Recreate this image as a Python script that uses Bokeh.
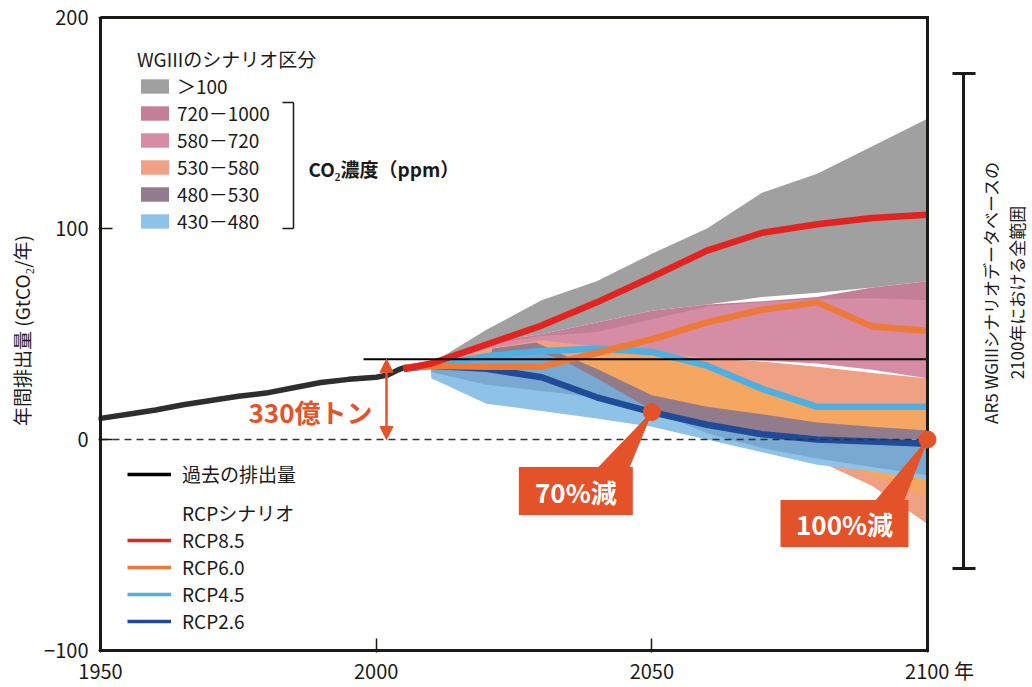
import math
from bokeh.plotting import figure
from bokeh.models import Range1d, FixedTicker, Label, Arrow, NormalHead, Legend, LegendItem
from bokeh.core.properties import value
from bokeh.embed import file_html
from bokeh.resources import INLINE

FONT = "Noto Sans CJK JP"

# ---------------- data ----------------
hist_years = [1950, 1955, 1960, 1965, 1970, 1975, 1980, 1985, 1990, 1995, 2000, 2002, 2004, 2005]
hist_emis = [10, 12, 14, 16.5, 18.5, 20.5, 22, 24.5, 27, 28.5, 29.5, 30.5, 33, 34]

rcp_years = [2005, 2010, 2020, 2030, 2040, 2050, 2060, 2070, 2080, 2090, 2100]
rcp85 = [33.5, 36, 45, 54, 65, 77, 89.5, 98, 102, 105, 106.5]
rcp60 = [34, 35, 34.5, 34.5, 41, 47.5, 55.5, 61.5, 65, 53.5, 51.5]
rcp45 = [34, 35, 39.5, 42, 43, 41.5, 35, 24, 15.5, 15.5, 15.5]
rcp26 = [33.5, 35, 33.5, 29.5, 20, 13, 7, 2.5, 0, -1, -2]

band_years = [2010, 2020, 2030, 2040, 2050, 2060, 2070, 2080, 2090, 2100]
gray_hi = [36, 52, 66, 75, 88, 100, 117, 126, 139, 152]
gray_lo = [34, 46, 50, 55.5, 61, 64, 67.5, 69.5, 72, 75]
mauve_hi = [35.5, 46, 50, 55.5, 61, 64, 65.5, 67.5, 72, 75]
mauve_lo = [33.5, 37, 41, 45, 49, 53, 57, 60, 63, 66]
pink_hi = [35, 45, 49, 51, 57, 63, 65, 66.5, 67, 66]
pink_lo = [33, 38, 38, 38.5, 39, 38.5, 37.5, 36, 33, 29]
salmon_hi = [34, 43, 47, 44, 42, 38.5, 37, 34.5, 31.5, 29]
salmon_lo = [30, 24, 17, 12, 8, 2, -4, -10, -22, -40]

orange_years = [2030, 2040, 2050, 2060, 2070, 2080, 2090, 2100]
orange_hi = [38, 41, 40, 34, 23, 15, 15, 15]
orange_lo = [36, 25, 12, 4, -2, -8, -17, -27]

blue_hi = [34, 41, 42, 33, 20, 12, 6, 3, 1.5, 0.5]
blue_lo = [29, 17, 13.5, 10, 6, 0, -6, -12, -15, -19]
steel_lo = [32, 26, 23, 20, 14, 3, -4, -9, -13, -17]

b480_years = [2021, 2029, 2034, 2040, 2050, 2060, 2070, 2080, 2090, 2100]
b480_hi = [43, 46, 40, 33.5, 21, 15.5, 12, 8, 6, 4.3]
b480_lo = [41, 42, 37.5, 29, 14, 8, 3.5, 1.5, 0.5, 0]

band_labels = ["＞100", "720－1000", "580－720", "530－580", "480－530", "430－480"]
rcp_labels = ["RCP8.5", "RCP6.0", "RCP4.5", "RCP2.6"]

x_ticks = [1950, 2000, 2050, 2100]
x_tick_labels = ["1950", "2000", "2050", "\u3000\u20092100 年"]
y_ticks = [-100, 0, 100, 200]
y_tick_labels = ["−100", "0", "100", "200"]

ref_level = 38            # level of recent emissions (horizontal line)
ref_text = "330億トン"
callout_years = [2050, 2100]
callout_vals = [13, 0]
callout_texts = ["70%減", "100%減"]

# ---------------- colours ----------------
C_GRAY = "#a0a0a0"
C_MAUVE = "#c47f98"
C_PINK = "#d58ca4"
C_SALMON = "#f0a083"
C_ORANGE = "#f5a660"
C_480 = "#927b8a"
C_LBLUE = "#8ec2e6"
C_STEEL = "#79a9d1"
C_85 = "#e3231f"
C_60 = "#ee7a3a"
C_45 = "#4db0e0"
C_26 = "#1f4b98"
C_HIST = "#2e2e2e"
C_ACC = "#e4522a"
C_INK = "#1b1b16"
C_TXT = "#1a1a1a"

# ---------------- geometry helpers (page px -> data) ----------------
X0, X1, Y0, Y1 = 1950, 2100, -100, 200
PXX = 827 / 150.0      # px per year
PXY = 633 / 300.0      # px per GtCO2


def xd(px):
    return X0 + (px - 100) / PXX


def yd(py):
    return (439 - py) / PXY


FRAME_LEFT, FRAME_RIGHT, FRAME_TOP, FRAME_BOTTOM = 98, 1030, 8, 652
p = figure(frame_width=FRAME_RIGHT - FRAME_LEFT, frame_height=FRAME_BOTTOM - FRAME_TOP,
           x_range=Range1d(xd(FRAME_LEFT), xd(FRAME_RIGHT)),
           y_range=Range1d(yd(FRAME_BOTTOM), yd(FRAME_TOP)),
           output_backend="svg", toolbar_location=None,
           min_border_left=FRAME_LEFT, min_border_right=0, min_border_top=FRAME_TOP,
           min_border_bottom=34)
p.outline_line_color = None
p.xgrid.visible = False
p.ygrid.visible = False
p.background_fill_color = "white"

# ---------------- bands ----------------
r_gray = p.varea(x=band_years, y1=gray_lo, y2=gray_hi, fill_color=C_GRAY)
r_mauve = p.varea(x=band_years, y1=mauve_lo, y2=mauve_hi, fill_color=C_MAUVE)
r_pink = p.varea(x=band_years, y1=pink_lo, y2=pink_hi, fill_color=C_PINK)
r_salmon = p.varea(x=band_years, y1=salmon_lo, y2=salmon_hi, fill_color=C_SALMON)
p.varea(x=orange_years, y1=orange_lo, y2=orange_hi, fill_color=C_ORANGE)
r_lblue = p.varea(x=band_years, y1=blue_lo, y2=blue_hi, fill_color=C_LBLUE)
p.varea(x=band_years, y1=steel_lo, y2=blue_hi, fill_color=C_STEEL)
r_480 = p.varea(x=b480_years, y1=b480_lo, y2=b480_hi, fill_color=C_480)

# ---------------- lines ----------------
p.line(hist_years, hist_emis, line_color=C_HIST, line_width=5.5, line_cap="round")
p.line(rcp_years, rcp26, line_color=C_26, line_width=6.5)
p.line(rcp_years, rcp45, line_color=C_45, line_width=6.5)
p.line(rcp_years, rcp60, line_color=C_60, line_width=6.5)
p.line(rcp_years, rcp85, line_color=C_85, line_width=6.5)

# zero line and reference level
p.line([X0, X1], [0, 0], line_color="#333333", line_width=1.5, line_dash="7 5")
p.line([xd(363), X1], [ref_level, ref_level], line_color="black", line_width=2)

# box
p.line([X0, X1, X1, X0, X0], [Y1, Y1, Y0, Y0, Y1], line_color=C_INK, line_width=3, line_join="miter")

# arrow + text
arr_x = xd(386)
p.add_layout(Arrow(start=NormalHead(size=13, fill_color=C_ACC, line_color=C_ACC),
                   end=NormalHead(size=13, fill_color=C_ACC, line_color=C_ACC),
                   x_start=arr_x, y_start=0, x_end=arr_x, y_end=ref_level,
                   line_color=C_ACC, line_width=2.5))
p.add_layout(Label(x=xd(372), y=ref_level * 0.35, text=ref_text, text_align="right",
                   text_baseline="middle", text_font=FONT, text_font_size="26px",
                   text_font_style="bold", text_color=C_ACC))

# callouts
box_dx = [-76, -83]
box_dy = [79, 84]
box_w = [114, 128]
box_h = [48, 47]
base_l = [-54, -52]
base_r = [-23, -24]
cx = [x + dxp / PXX for x, dxp in zip(callout_years, box_dx)]
cy = [v - dyp / PXY for v, dyp in zip(callout_vals, box_dy)]
tri_xs, tri_ys = [], []
for x, v, bl, br, dyp, hh in zip(callout_years, callout_vals, base_l, base_r, box_dy, box_h):
    top = v - (dyp - hh / 2.0) / PXY
    tri_xs.append([x, x + bl / PXX, x + br / PXX])
    tri_ys.append([v, top - 1 / PXY, top - 1 / PXY])
p.patches(tri_xs, tri_ys, fill_color=C_ACC, line_color=C_ACC)
p.rect(x=cx, y=cy, width=box_w, height=box_h, width_units="screen", height_units="screen",
       fill_color=C_ACC, line_color=None)
p.text(x=cx, y=cy, text=callout_texts, text_color="white", text_font=value(FONT),
       text_font_size="26px", text_font_style="bold", text_align="center", text_baseline="middle")
p.scatter(callout_years, callout_vals, size=17, fill_color=C_ACC, line_color=C_ACC)

# right bracket and text
bx = xd(963)
p.multi_line([[bx, bx], [xd(952), xd(975)], [xd(952), xd(975)]],
             [[yd(73), yd(568)], [yd(73), yd(73)], [yd(568), yd(568)]],
             line_color=C_INK, line_width=3)
p.text(x=[xd(990), xd(1016)], y=[yd(292), yd(292)],
       text=["AR5 WGIIIシナリオデータベースの", "2100年における全範囲"],
       angle=math.pi / 2, text_font=value(FONT), text_font_size="17px", text_color=C_TXT,
       text_align="center", text_baseline="middle")

# legend bracket and CO2 text
p.multi_line([[xd(293), xd(293)], [xd(282), xd(293)], [xd(282), xd(293)]],
             [[yd(102), yd(228)], [yd(102), yd(102)], [yd(228), yd(228)]],
             line_color=C_INK, line_width=1.5)
p.add_layout(Label(x=xd(308), y=yd(168), text="CO₂濃度（ppm）", text_baseline="middle",
                   text_font=FONT, text_font_size="19px", text_font_style="bold", text_color=C_TXT))

# ---------------- legends ----------------
common = dict(padding=0, margin=0, border_line_alpha=0, background_fill_alpha=0,
              label_text_font=FONT, label_text_font_size="19px", label_text_color=C_TXT,
              label_height=20, glyph_height=18, spacing=0)

band_renderers = [r_gray, r_mauve, r_pink, r_salmon, r_480, r_lblue]
leg_top = Legend(items=[LegendItem(label=l, renderers=[r]) for l, r in zip(band_labels, band_renderers)],
                 title="WGIIIのシナリオ区分", location=(137 - FRAME_LEFT, FRAME_BOTTOM - 234),
                 glyph_width=35, label_standoff=5,
                 title_text_font=FONT, title_text_font_size="19px", title_text_font_style="normal",
                 title_text_color=C_TXT, title_standoff=0, **common)
p.add_layout(leg_top)

# legend proxies (single point: the line itself draws nothing in the plot)
hist_proxy = p.line(x=hist_years[:1], y=hist_emis[:1], line_color="black", line_width=3.5)
leg_hist = Legend(items=[LegendItem(label="過去の排出量", renderers=[hist_proxy])],
                  location=(127 - FRAME_LEFT, FRAME_BOTTOM - 487), glyph_width=44, label_standoff=11,
                  **common)
p.add_layout(leg_hist)

blank = p.line(x=hist_years[:1], y=hist_emis[:1], line_alpha=0)
rcp_proxies = [p.line(x=rcp_years[:1], y=s[:1], line_color=c, line_width=3.5)
               for c, s in zip([C_85, C_60, C_45, C_26], [rcp85, rcp60, rcp45, rcp26])]
leg_rcp = Legend(items=[LegendItem(label="RCPシナリオ", renderers=[blank])] +
                 [LegendItem(label=l, renderers=[r]) for l, r in zip(rcp_labels, rcp_proxies)],
                 location=(127 - FRAME_LEFT, FRAME_BOTTOM - 634), glyph_width=44, label_standoff=11,
                 **common)
p.add_layout(leg_rcp)

# ---------------- axes ----------------
p.xaxis.ticker = FixedTicker(ticks=x_ticks)
p.xaxis.major_label_overrides = dict(zip(x_ticks, x_tick_labels))
p.yaxis.ticker = FixedTicker(ticks=y_ticks)
p.yaxis.major_label_overrides = dict(zip(y_ticks, y_tick_labels))
for ax in (p.xaxis, p.yaxis):
    ax.axis_line_color = None
    ax.major_tick_in = 14
    ax.major_tick_out = 0
    ax.major_tick_line_width = 1.5
    ax.major_tick_line_color = C_INK
    ax.minor_tick_line_color = None
    ax.major_label_text_font = FONT
    ax.major_label_text_color = C_TXT
    ax.major_label_text_font_size = "20px"
p.xaxis.major_label_standoff = 3
p.yaxis.major_label_standoff = 10
p.yaxis.axis_label = "年間排出量 (GtCO₂/年)"
p.yaxis.axis_label_text_font = FONT
p.yaxis.axis_label_text_font_size = "19px"
p.yaxis.axis_label_text_font_style = "normal"
p.yaxis.axis_label_text_color = C_TXT
p.yaxis.axis_label_standoff = 6

open("out.html", "w").write(file_html(p, INLINE))
